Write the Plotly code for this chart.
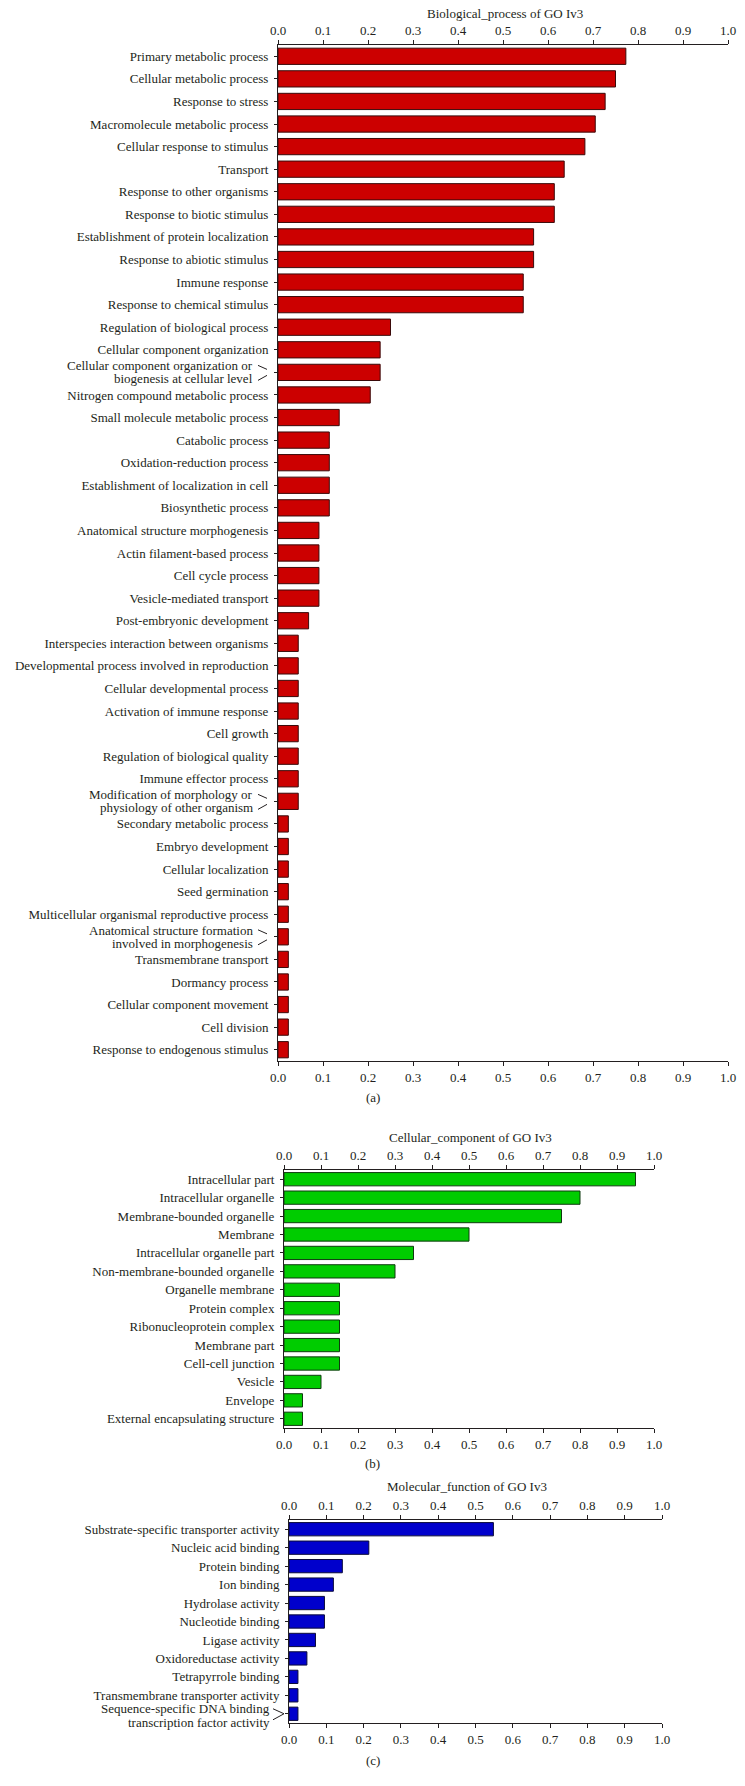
import plotly.graph_objects as go

W, H = 745, 1786
FONT = "Liberation Serif"
TXT = "#231f20"

# ---------------- data ----------------
bp_categories = [
    "Primary metabolic process", "Cellular metabolic process", "Response to stress",
    "Macromolecule metabolic process", "Cellular response to stimulus", "Transport",
    "Response to other organisms", "Response to biotic stimulus",
    "Establishment of protein localization", "Response to abiotic stimulus",
    "Immune response", "Response to chemical stimulus", "Regulation of biological process",
    "Cellular component organization",
    "Cellular component organization or biogenesis at cellular level",
    "Nitrogen compound metabolic process", "Small molecule metabolic process",
    "Catabolic process", "Oxidation-reduction process", "Establishment of localization in cell",
    "Biosynthetic process", "Anatomical structure morphogenesis", "Actin filament-based process",
    "Cell cycle process", "Vesicle-mediated transport", "Post-embryonic development",
    "Interspecies interaction between organisms", "Developmental process involved in reproduction",
    "Cellular developmental process", "Activation of immune response", "Cell growth",
    "Regulation of biological quality", "Immune effector process",
    "Modification of morphology or physiology of other organism",
    "Secondary metabolic process", "Embryo development", "Cellular localization",
    "Seed germination", "Multicellular organismal reproductive process",
    "Anatomical structure formation involved in morphogenesis", "Transmembrane transport",
    "Dormancy process", "Cellular component movement", "Cell division",
    "Response to endogenous stimulus",
]
bp_values = [
    0.773, 0.750, 0.727, 0.705, 0.682, 0.636, 0.614, 0.614, 0.568, 0.568,
    0.545, 0.545, 0.250, 0.227, 0.227, 0.205, 0.136, 0.114, 0.114, 0.114,
    0.114, 0.091, 0.091, 0.091, 0.091, 0.068, 0.045, 0.045, 0.045, 0.045,
    0.045, 0.045, 0.045, 0.045, 0.023, 0.023, 0.023, 0.023, 0.023, 0.023,
    0.023, 0.023, 0.023, 0.023, 0.023,
]

cc_categories = [
    "Intracellular part", "Intracellular organelle", "Membrane-bounded organelle",
    "Membrane", "Intracellular organelle part", "Non-membrane-bounded organelle",
    "Organelle membrane", "Protein complex", "Ribonucleoprotein complex",
    "Membrane part", "Cell-cell junction", "Vesicle", "Envelope",
    "External encapsulating structure",
]
cc_values = [0.95, 0.80, 0.75, 0.50, 0.35, 0.30, 0.15, 0.15, 0.15, 0.15, 0.15, 0.10, 0.05, 0.05]

mf_categories = [
    "Substrate-specific transporter activity", "Nucleic acid binding", "Protein binding",
    "Ion binding", "Hydrolase activity", "Nucleotide binding", "Ligase activity",
    "Oxidoreductase activity", "Tetrapyrrole binding", "Transmembrane transporter activity",
    "Sequence-specific DNA binding transcription factor activity",
]
mf_values = [0.548, 0.214, 0.143, 0.119, 0.095, 0.095, 0.071, 0.048, 0.024, 0.024, 0.024]

tick_values = [0.0, 0.1, 0.2, 0.3, 0.4, 0.5, 0.6, 0.7, 0.8, 0.9, 1.0]
tick_labels = ["0.0", "0.1", "0.2", "0.3", "0.4", "0.5", "0.6", "0.7", "0.8", "0.9", "1.0"]

titles = ["Biological_process of GO Iv3", "Cellular_component of GO Iv3", "Molecular_function of GO Iv3"]
panel_labels = ["(a)", "(b)", "(c)"]

# two-line labels (drawn with a small bracket pointing at the tick)
wrapped = {
    "Cellular component organization or biogenesis at cellular level":
        ("Cellular component organization or", "biogenesis at cellular level"),
    "Modification of morphology or physiology of other organism":
        ("Modification of morphology or", "physiology of other organism"),
    "Anatomical structure formation involved in morphogenesis":
        ("Anatomical structure formation", "involved in morphogenesis"),
    "Sequence-specific DNA binding transcription factor activity":
        ("Sequence-specific DNA binding", "transcription factor activity"),
}

# ---------------- layout geometry (pixels) ----------------
panels = [
    dict(cats=bp_categories, vals=bp_values, color="#cc0000", line="#3a0a0a",
         x=(278, 728), y=(45, 1061), title_x=505, title_y=13, label_y=1097,
         bracket="slashes", text_right=-23, lines_dy=(-6.5, 6.5)),
    dict(cats=cc_categories, vals=cc_values, color="#00cc00", line="#0f3a0f",
         x=(284, 654), y=(1170, 1428), title_x=470, title_y=1137, label_y=1463,
         bracket="slashes", text_right=-23, lines_dy=(-6.5, 6.5)),
    dict(cats=mf_categories, vals=mf_values, color="#0000cc", line="#0a0a3a",
         x=(289, 662), y=(1520, 1723), title_x=467, title_y=1486, label_y=1760,
         bracket="angle", text_right=-17, lines_dy=(-5.5, 8.5)),
]


def px_x(p):
    return p / W


def px_y(p):
    return 1 - p / H


fig = go.Figure()
layout = dict(
    width=W, height=H, margin=dict(l=0, r=0, t=0, b=0, autoexpand=False),
    paper_bgcolor="white", plot_bgcolor="white", showlegend=False,
    font=dict(family=FONT, size=13, color=TXT),
)
annotations = []
shapes = []

for k, p in enumerate(panels):
    n = len(p["cats"])
    xa = "x" if k == 0 else f"x{k + 1}"
    ya = "y" if k == 0 else f"y{k + 1}"
    xt = f"x{k + 4}"
    xa_key = "xaxis" if k == 0 else f"xaxis{k + 1}"
    ya_key = "yaxis" if k == 0 else f"yaxis{k + 1}"
    xt_key = f"xaxis{k + 4}"

    ticktext = ["" if c in wrapped else c for c in p["cats"]]

    fig.add_trace(go.Bar(
        x=p["vals"], y=p["cats"], orientation="h", xaxis=xa, yaxis=ya,
        marker=dict(color=p["color"], line=dict(color=p["line"], width=1)),
        width=0.72, hoverinfo="skip",
    ))
    fig.add_trace(go.Scatter(
        x=p["vals"], y=p["cats"], xaxis=xt, yaxis=ya, mode="markers",
        marker=dict(opacity=0), hoverinfo="skip",
    ))

    xdom = [px_x(p["x"][0]), px_x(p["x"][1])]
    ydom = [px_y(p["y"][1]), px_y(p["y"][0])]
    xcommon = dict(
        range=[0, 1], tickvals=tick_values, ticktext=tick_labels, showline=True,
        linecolor=TXT, linewidth=1, ticks="outside", ticklen=4, tickcolor=TXT,
        tickwidth=1, showgrid=False, zeroline=False, domain=xdom, fixedrange=True,
        automargin=False, tickfont=dict(family=FONT, size=13, color=TXT),
    )
    layout[xa_key] = dict(xcommon, anchor=ya, side="bottom")
    layout[xt_key] = dict(xcommon, anchor=ya, side="top", overlaying=xa)
    layout[ya_key] = dict(
        domain=ydom, anchor=xa, type="category", categoryorder="array",
        categoryarray=p["cats"], tickvals=p["cats"], ticktext=ticktext,
        range=[n - 0.5, -0.5], showline=True, linecolor=TXT, linewidth=1,
        ticks="outside", ticklen=3, tickcolor=TXT, showgrid=False, zeroline=False,
        fixedrange=True, ticklabelstandoff=3, automargin=False,
        tickfont=dict(family=FONT, size=13, color=TXT),
    )

    # panel title and label
    annotations.append(dict(
        text=titles[k], x=px_x(p["title_x"]), y=px_y(p["title_y"]),
        xref="paper", yref="paper", showarrow=False, xanchor="center", yanchor="middle",
        font=dict(family=FONT, size=13, color=TXT),
    ))
    annotations.append(dict(
        text=panel_labels[k], x=0.5, y=px_y(p["label_y"]),
        xref="paper", yref="paper", showarrow=False, xanchor="center", yanchor="middle",
        font=dict(family=FONT, size=13, color=TXT),
    ))

    # two-line labels and their brackets
    spacing = (p["y"][1] - p["y"][0]) / n
    x0 = p["x"][0]
    for i, c in enumerate(p["cats"]):
        if c not in wrapped:
            continue
        for line_text, dy in zip(wrapped[c], p["lines_dy"]):
            annotations.append(dict(
                text=line_text, xref="paper", yref=ya,
                x=px_x(x0 + p["text_right"]), y=i + dy / spacing,
                xanchor="right", yanchor="middle", showarrow=False,
                font=dict(family=FONT, size=13, color=TXT),
            ))
        if p["bracket"] == "slashes":
            segs = [((-20, -7), (-11, -3)), ((-20, 8), (-11, 3))]
        else:
            segs = [((-16, -5), (-5, 0)), ((-5, 0), (-16, 6))]
        for (ax0, ay0), (ax1, ay1) in segs:
            shapes.append(dict(
                type="line", xref="paper", yref=ya,
                x0=px_x(x0 + ax0), x1=px_x(x0 + ax1),
                y0=i + ay0 / spacing, y1=i + ay1 / spacing,
                line=dict(color=TXT, width=1),
            ))

layout["annotations"] = annotations
layout["shapes"] = shapes
fig.update_layout(**layout)
fig.write_html(
    "out.html",
    config={"displayModeBar": False, "staticPlot": True},
    post_script="document.body.style.margin='0';document.body.style.overflow='hidden';",
)
